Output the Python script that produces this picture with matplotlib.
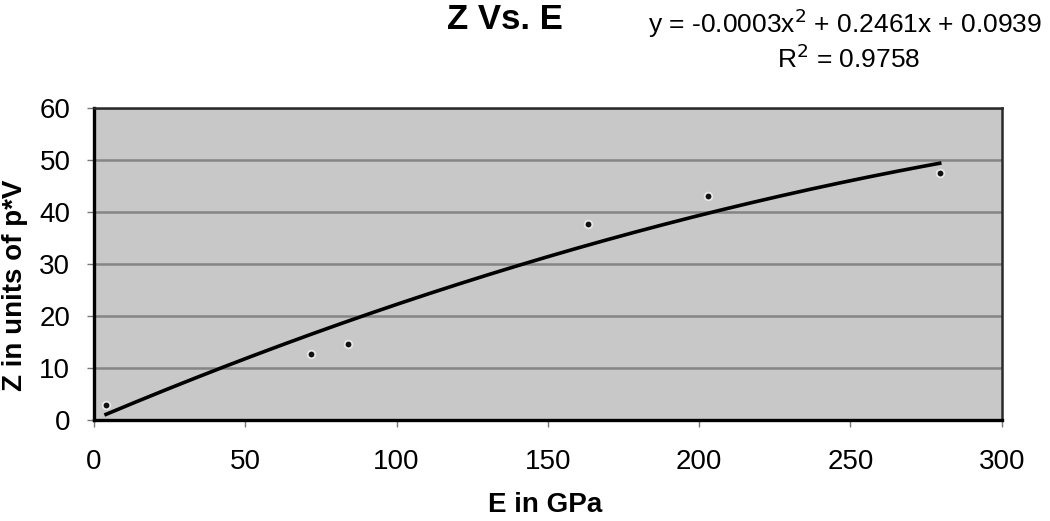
import numpy as np
import matplotlib
matplotlib.use('Agg')
import matplotlib.pyplot as plt

plt.rcParams['font.family'] = ['Liberation Sans', 'DejaVu Sans']

# Scatter data
e_gpa = [4, 71.7, 83.9, 163.2, 202.8, 279.5]
z_pv = [2.9, 12.7, 14.6, 37.7, 43.1, 47.5]

# Trendline coefficients (quadratic term as drawn, shown rounded as -0.0003)
trend_coef = [-0.00025, 0.2461, 0.0939]

x_ticks = [0, 50, 100, 150, 200, 250, 300]
y_ticks = [0, 10, 20, 30, 40, 50, 60]

xs = np.linspace(min(e_gpa), max(e_gpa), 200)
ys = np.polyval(trend_coef, xs)

fig = plt.figure(figsize=(10.5, 5.21), dpi=100)
ax = fig.add_axes([0.0895, 0.194, 0.8645, 0.599])
ax.set_facecolor('#c8c8c8')

ax.plot(xs, ys, color='black', lw=2.6, zorder=3)
ax.plot(e_gpa, z_pv, linestyle='none', marker='o', ms=5.5, mfc='#111111',
        mec='#e8e8e8', mew=1.3, zorder=4)

ax.set_xlim(0, 300)
ax.set_ylim(0, 60)
ax.set_xticks(x_ticks)
ax.set_yticks(y_ticks)
ax.grid(axis='y', color='#858585', lw=1.8)
ax.set_axisbelow(True)
for side in ['left', 'bottom']:
    ax.spines[side].set_linewidth(2.4)
for side in ['top', 'right']:
    ax.spines[side].set_linewidth(1.8)
    ax.spines[side].set_color('#2a2a2a')
ax.tick_params(axis='both', direction='out', length=5, width=1, color='#777777',
               labelsize=20)
ax.tick_params(axis='y', pad=12)
ax.tick_params(axis='x', pad=16)

fig.text(0.519, 0.03, 'E in GPa', fontsize=20, fontweight='bold',
         ha='center', va='center')
fig.text(0.014, 0.453, 'Z in units of p*V', fontsize=20, fontweight='bold',
         ha='center', va='center', rotation=90)

fig.text(0.481, 0.962, 'Z Vs. E', fontsize=25, fontweight='bold',
         ha='center', va='center')
fig.text(0.805, 0.955, r'y = -0.0003x$^{2}$ + 0.2461x + 0.0939', fontsize=19,
         ha='center', va='center')
fig.text(0.808, 0.888, r'R$^{2}$ = 0.9758', fontsize=19, ha='center', va='center')

fig.savefig('out.png', dpi=100)
